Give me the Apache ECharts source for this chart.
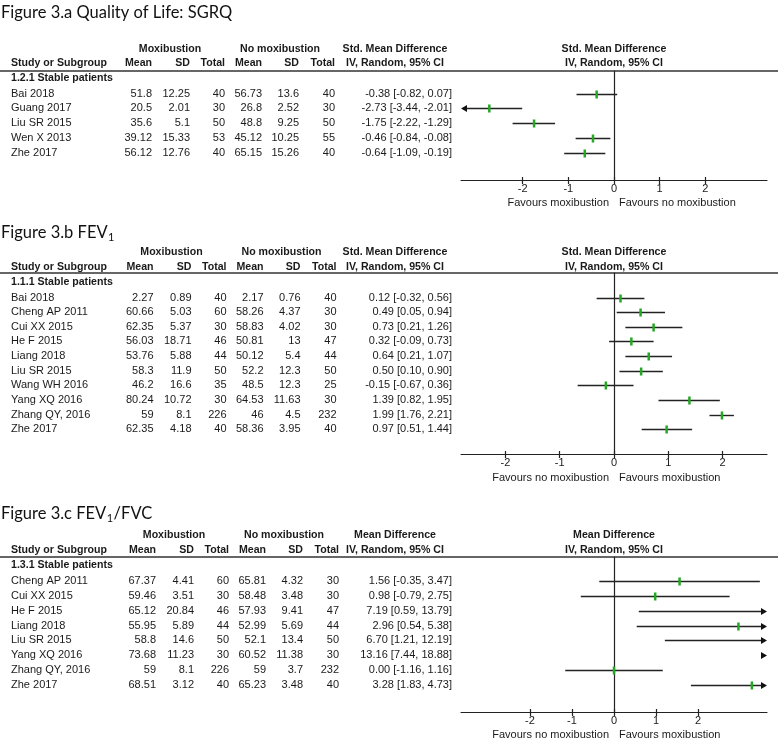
<!DOCTYPE html>
<html><head><meta charset="utf-8">
<script src="https://cdn.jsdelivr.net/npm/echarts@6/dist/echarts.min.js"></script>
<style>html,body{margin:0;padding:0;background:#fff}#c{width:778px;height:745px}</style>
</head><body><div id="c"></div>
<script>
// ---------- Panel A: Quality of Life (SGRQ) ----------
const studiesA = ['Bai 2018','Guang 2017','Liu SR 2015','Wen X 2013','Zhe 2017'];
const moxMeanA = [51.8, 20.5, 35.6, 39.12, 56.12];
const moxSdA = [12.25, 2.01, 5.1, 15.33, 12.76];
const moxTotalA = [40, 30, 50, 53, 40];
const ctlMeanA = [56.73, 26.8, 48.8, 45.12, 65.15];
const ctlSdA = [13.6, 2.52, 9.25, 10.25, 15.26];
const ctlTotalA = [40, 30, 50, 55, 40];
const estA = [-0.38, -2.73, -1.75, -0.46, -0.64];
const lowA = [-0.82, -3.44, -2.22, -0.84, -1.09];
const highA = [0.07, -2.01, -1.29, -0.08, -0.19];

// ---------- Panel B: FEV1 ----------
const studiesB = ['Bai 2018','Cheng AP 2011','Cui XX 2015','He F 2015','Liang 2018','Liu SR 2015','Wang WH 2016','Yang XQ 2016','Zhang QY, 2016','Zhe 2017'];
const moxMeanB = [2.27, 60.66, 62.35, 56.03, 53.76, 58.3, 46.2, 80.24, 59, 62.35];
const moxSdB = [0.89, 5.03, 5.37, 18.71, 5.88, 11.9, 16.6, 10.72, 8.1, 4.18];
const moxTotalB = [40, 60, 30, 46, 44, 50, 35, 30, 226, 40];
const ctlMeanB = [2.17, 58.26, 58.83, 50.81, 50.12, 52.2, 48.5, 64.53, 46, 58.36];
const ctlSdB = [0.76, 4.37, 4.02, 13, 5.4, 12.3, 12.3, 11.63, 4.5, 3.95];
const ctlTotalB = [40, 30, 30, 47, 44, 50, 25, 30, 232, 40];
const estB = [0.12, 0.49, 0.73, 0.32, 0.64, 0.50, -0.15, 1.39, 1.99, 0.97];
const lowB = [-0.32, 0.05, 0.21, -0.09, 0.21, 0.10, -0.67, 0.82, 1.76, 0.51];
const highB = [0.56, 0.94, 1.26, 0.73, 1.07, 0.90, 0.36, 1.95, 2.21, 1.44];

// ---------- Panel C: FEV1/FVC ----------
const studiesC = ['Cheng AP 2011','Cui XX 2015','He F 2015','Liang 2018','Liu SR 2015','Yang XQ 2016','Zhang QY, 2016','Zhe 2017'];
const moxMeanC = [67.37, 59.46, 65.12, 55.95, 58.8, 73.68, 59, 68.51];
const moxSdC = [4.41, 3.51, 20.84, 5.89, 14.6, 11.23, 8.1, 3.12];
const moxTotalC = [60, 30, 46, 44, 50, 30, 226, 40];
const ctlMeanC = [65.81, 58.48, 57.93, 52.99, 52.1, 60.52, 59, 65.23];
const ctlSdC = [4.32, 3.48, 9.41, 5.69, 13.4, 11.38, 3.7, 3.48];
const ctlTotalC = [30, 30, 47, 44, 50, 30, 232, 40];
const estC = [1.56, 0.98, 7.19, 2.96, 6.70, 13.16, 0.00, 3.28];
const lowC = [-0.35, -0.79, 0.59, 0.54, 1.21, 7.44, -1.16, 1.83];
const highC = [3.47, 2.75, 13.79, 5.38, 12.19, 18.88, 1.16, 4.73];

const tickValues = [-2, -1, 0, 1, 2];

// ---------- layout ----------
const FONT = '"Liberation Sans", Arial, sans-serif';
const TFONT = 'Lato, "Open Sans", sans-serif';
const TEXT = '#1a1a1a';
const LINE = '#222';
const GREEN = '#22a822';
const GRID_LEFT = 461, GRID_W = 306;
const ZERO_X = GRID_LEFT + GRID_W / 2;

const panels = [
  { title: ['Figure 3.a Quality of Life: SGRQ'], titleY: 13, h1: 49, h2: 63, lineY: 71, subY: 78,
    row0: 93.5, rowH: 14.8, axisY: 180, tickY: 191, favY: 203, dx: 0, range: 3.35,
    measure: 'Std. Mean Difference', sub: '1.2.1 Stable patients',
    favL: 'Favours moxibustion', favR: 'Favours no moxibustion',
    studies: studiesA, m1: moxMeanA, s1: moxSdA, t1: moxTotalA, m2: ctlMeanA, s2: ctlSdA, t2: ctlTotalA,
    est: estA, low: lowA, high: highA },
  { title: ['Figure 3.b FEV', '1', ''], titleY: 233, h1: 252, h2: 267, lineY: 273, subY: 282,
    row0: 297.5, rowH: 14.65, axisY: 454, tickY: 465, favY: 478, dx: 1.5, range: 2.82,
    measure: 'Std. Mean Difference', sub: '1.1.1 Stable patients',
    favL: 'Favours no moxibustion', favR: 'Favours moxibustion',
    studies: studiesB, m1: moxMeanB, s1: moxSdB, t1: moxTotalB, m2: ctlMeanB, s2: ctlSdB, t2: ctlTotalB,
    est: estB, low: lowB, high: highB },
  { title: ['Figure 3.c FEV', '1', '/FVC'], titleY: 514, h1: 535, h2: 550, lineY: 557, subY: 565,
    row0: 581, rowH: 14.85, axisY: 712, tickY: 723, favY: 735, dx: 4, range: 3.64,
    measure: 'Mean Difference', sub: '1.3.1 Stable patients',
    favL: 'Favours no moxibustion', favR: 'Favours moxibustion',
    studies: studiesC, m1: moxMeanC, s1: moxSdC, t1: moxTotalC, m2: ctlMeanC, s2: ctlSdC, t2: ctlTotalC,
    est: estC, low: lowC, high: highC }
];

const COLS = { study: 11, m1: 152, s1: 190, t1: 225, m2: 262, s2: 299, t2: 335, ci: 452, grpMox: 170, grpCtl: 280, meas: 395 };

const ctx = document.createElement('canvas').getContext('2d');
function measure(txt, font) { ctx.font = font; return ctx.measureText(txt).width; }

function txt(text, x, y, align, bold, size, font, color) {
  return { type: 'text', silent: true, x: x, y: y,
    style: { text: text, align: align || 'left', verticalAlign: 'middle',
      fontFamily: font || FONT, fontSize: size || 11, fontWeight: bold ? 'bold' : 'normal', fill: color || TEXT } };
}

const graphics = [];
const grids = [], xAxes = [], yAxes = [], series = [];

panels.forEach((p, k) => {
  // title
  const tSize = 16.5;
  const tFontStr = tSize + 'px ' + TFONT;
  graphics.push(txt(p.title[0], 1, p.titleY, 'left', false, tSize, TFONT, '#111'));
  if (p.title.length > 1) {
    const w0 = measure(p.title[0], tFontStr);
    graphics.push(txt(p.title[1], 1 + w0 + 0.5, p.titleY + 4, 'left', false, 11, TFONT, '#111'));
    const w1 = measure(p.title[1], '11px ' + TFONT);
    if (p.title[2]) graphics.push(txt(p.title[2], 1 + w0 + w1 + 1, p.titleY, 'left', false, tSize, TFONT, '#111'));
  }
  const d = p.dx;
  const HB = 10.6;
  // header
  graphics.push(txt('Moxibustion', COLS.grpMox + d, p.h1, 'center', true, HB));
  graphics.push(txt('No moxibustion', COLS.grpCtl + d, p.h1, 'center', true, HB));
  graphics.push(txt(p.measure, COLS.meas, p.h1, 'center', true, HB));
  graphics.push(txt(p.measure, ZERO_X, p.h1, 'center', true, HB));
  graphics.push(txt('Study or Subgroup', COLS.study, p.h2, 'left', true, HB));
  graphics.push(txt('Mean', COLS.m1 + d, p.h2, 'right', true, HB));
  graphics.push(txt('SD', COLS.s1 + d, p.h2, 'right', true, HB));
  graphics.push(txt('Total', COLS.t1 + d, p.h2, 'right', true, HB));
  graphics.push(txt('Mean', COLS.m2 + d, p.h2, 'right', true, HB));
  graphics.push(txt('SD', COLS.s2 + d, p.h2, 'right', true, HB));
  graphics.push(txt('Total', COLS.t2 + d, p.h2, 'right', true, HB));
  graphics.push(txt('IV, Random, 95% CI', COLS.meas, p.h2, 'center', true, HB));
  graphics.push(txt('IV, Random, 95% CI', ZERO_X, p.h2, 'center', true, HB));
  graphics.push({ type: 'line', silent: true, shape: { x1: 0, y1: p.lineY, x2: 778, y2: p.lineY },
    style: { stroke: '#333', lineWidth: 1.3 } });
  graphics.push(txt(p.sub, COLS.study, p.subY, 'left', true, HB));
  // rows
  p.studies.forEach((s, i) => {
    const y = p.row0 + i * p.rowH;
    graphics.push(txt(s, COLS.study, y, 'left'));
    graphics.push(txt(String(p.m1[i]), COLS.m1 + d, y, 'right'));
    graphics.push(txt(String(p.s1[i]), COLS.s1 + d, y, 'right'));
    graphics.push(txt(String(p.t1[i]), COLS.t1 + d, y, 'right'));
    graphics.push(txt(String(p.m2[i]), COLS.m2 + d, y, 'right'));
    graphics.push(txt(String(p.s2[i]), COLS.s2 + d, y, 'right'));
    graphics.push(txt(String(p.t2[i]), COLS.t2 + d, y, 'right'));
    graphics.push(txt(p.est[i].toFixed(2) + ' [' + p.low[i].toFixed(2) + ', ' + p.high[i].toFixed(2) + ']', COLS.ci, y, 'right'));
  });
  // favours
  graphics.push(txt(p.favL, ZERO_X - 5, p.favY, 'right'));
  graphics.push(txt(p.favR, ZERO_X + 5, p.favY, 'left'));

  // forest grid
  grids.push({ left: GRID_LEFT, width: GRID_W, top: p.lineY, height: p.axisY - p.lineY, containLabel: false });
  xAxes.push({ type: 'value', gridIndex: k, position: 'bottom', min: -p.range, max: p.range,
    axisLine: { show: true, onZero: false, lineStyle: { color: LINE, width: 1.2 } },
    axisTick: { show: true, customValues: tickValues, length: 4, lineStyle: { color: LINE, width: 1.2 } },
    axisLabel: { show: true, customValues: tickValues, color: TEXT, fontFamily: FONT, fontSize: 11, margin: 3 },
    splitLine: { show: false } });
  yAxes.push({ type: 'value', gridIndex: k, inverse: true,
    min: (p.lineY - p.row0) / p.rowH, max: (p.axisY - p.row0) / p.rowH,
    axisLine: { show: true, onZero: true, lineStyle: { color: LINE, width: 1.2 } },
    axisTick: { show: false }, axisLabel: { show: false }, splitLine: { show: false } });
  series.push({
    type: 'custom', xAxisIndex: k, yAxisIndex: k, silent: true,
    data: p.studies.map((s, i) => [p.est[i], p.low[i], p.high[i], i]),
    encode: { x: [0, 1, 2], y: 3 },
    renderItem: function (params, api) {
      const cs = params.coordSys;
      const L = cs.x, R = cs.x + cs.width;
      const y = Math.round(api.coord([0, api.value(3)])[1]) + 0.5;
      const xe = api.coord([api.value(0), 0])[0];
      const xl = api.coord([api.value(1), 0])[0];
      const xh = api.coord([api.value(2), 0])[0];
      const ch = [];
      const arrowR = xh > R, arrowL = xl < L;
      const a = Math.max(xl, L + (arrowL ? 5 : 0));
      const b = Math.min(xh, R - (arrowR ? 5 : 0));
      if (b > a) ch.push({ type: 'line', shape: { x1: a, y1: y, x2: b, y2: y }, style: { stroke: LINE, lineWidth: 1.4 } });
      if (arrowR) ch.push({ type: 'polygon', shape: { points: [[R, y], [R - 6, y - 3.5], [R - 6, y + 3.5]] }, style: { fill: '#111' } });
      if (arrowL) ch.push({ type: 'polygon', shape: { points: [[L, y], [L + 6, y - 3.5], [L + 6, y + 3.5]] }, style: { fill: '#111' } });
      if (xe >= L && xe <= R) ch.push({ type: 'rect', shape: { x: xe - 1.25, y: y - 4, width: 2.5, height: 8 }, style: { fill: GREEN } });
      return { type: 'group', children: ch };
    }
  });
});

// inner tick halves so ticks cross the axis line
panels.forEach((p, k) => {
  xAxes.push({ type: 'value', gridIndex: k, position: 'bottom', min: -p.range, max: p.range,
    axisLine: { show: false, onZero: false },
    axisTick: { show: true, inside: true, customValues: tickValues, length: 3, lineStyle: { color: LINE, width: 1.2 } },
    axisLabel: { show: false }, splitLine: { show: false } });
});

const chart = echarts.init(document.getElementById('c'), null, { renderer: 'canvas' });
chart.setOption({
  animation: false,
  backgroundColor: '#fff',
  grid: grids, xAxis: xAxes, yAxis: yAxes, series: series,
  graphic: { elements: graphics }
});
</script>
</body></html>
